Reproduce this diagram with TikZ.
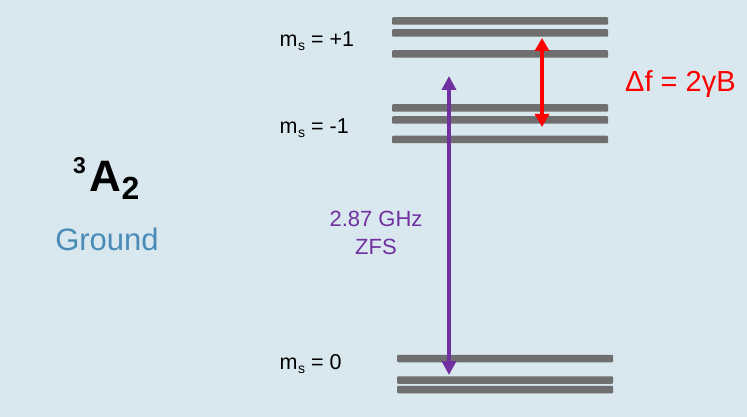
\documentclass[tikz,border=0pt]{standalone}
\usepackage{fontspec}
\setmainfont{Liberation Sans}
\usetikzlibrary{arrows.meta}
\definecolor{bgc}{HTML}{D9E7EF}
\definecolor{barc}{HTML}{6F6F6F}
\definecolor{zfs}{HTML}{7030A0}
\definecolor{gnd}{HTML}{4A8CB8}
\newcommand{\msub}[1]{m\hspace{0.5pt}\raisebox{-4pt}{\fontsize{14}{15}\selectfont #1}}
\tikzset{
  bar/.style={fill=barc, draw=none, rounded corners=1pt, inner sep=0pt, minimum height=7.5pt, minimum width=216pt},
  lvl/.style={anchor=base west, inner sep=0pt, font=\fontsize{21.5}{24}\selectfont},
  zfsarrow/.style={draw=zfs, line width=3.8pt, {Triangle[width=14pt,length=14pt]}-{Triangle[width=14pt,length=14pt]}},
  redarrow/.style={draw=red, line width=4.5pt, {Triangle[width=14pt,length=13pt]}-{Triangle[width=14pt,length=13pt]}},
}
\begin{document}
\begin{tikzpicture}[x=1pt,y=-1pt]
\fill[bgc] (0,0) rectangle (747,417);
\useasboundingbox (0,0) rectangle (747,417);
% top group (m_s=+1)
\node[bar] (p1) at (500,21) {};
\node[bar] (p2) at (500,33) {};
\node[bar] (p3) at (500,54) {};
% middle group (m_s=-1)
\node[bar] (m1) at (500,108) {};
\node[bar] (m2) at (500,120) {};
\node[bar] (m3) at (500,139.5) {};
% bottom group (m_s=0)
\node[bar] (z1) at (505,358.5) {};
\node[bar] (z2) at (505,380) {};
\node[bar] (z3) at (505,389.5) {};
% labels
\node[lvl] (lp) at (279.5,46.7) {\msub{s} = +1};
\node[lvl] (lm) at (279.5,133.5) {\msub{s} = -1};
\node[lvl] (lz) at (279.5,369) {\msub{s} = 0};
% arrows
\coordinate (zt) at (449,76);
\coordinate (zb) at (449,375);
\draw[zfsarrow] (zb) -- (zt);
\coordinate (rt) at (542,38);
\coordinate (rb) at (542,127);
\draw[redarrow] (rb) -- (rt);
\node[text=zfs, align=center, font=\fontsize{22}{28}\selectfont, inner sep=0pt] (zl) at (376,233) {2.87 GHz\\ZFS};
\node[text=red, anchor=base west, inner sep=0pt, font=\fontsize{29}{32}\selectfont] (df) at (625,92) {Δf = 2γB};
% left labels
\node[anchor=base west, inner sep=0pt, font=\bfseries\fontsize{44}{46}\selectfont] (st) at (89.5,191.7) {A};
\node[anchor=base west, inner sep=0pt, font=\bfseries\fontsize{23}{26}\selectfont] (sup) at (73,173.3) {3};
\node[anchor=base west, inner sep=0pt, font=\bfseries\fontsize{32}{34}\selectfont] (sub) at (121.5,200) {2};
\node[anchor=base, inner sep=0pt, text=gnd, font=\fontsize{31}{34}\selectfont] (gr) at (107,250) {Ground};
\end{tikzpicture}
\end{document}
